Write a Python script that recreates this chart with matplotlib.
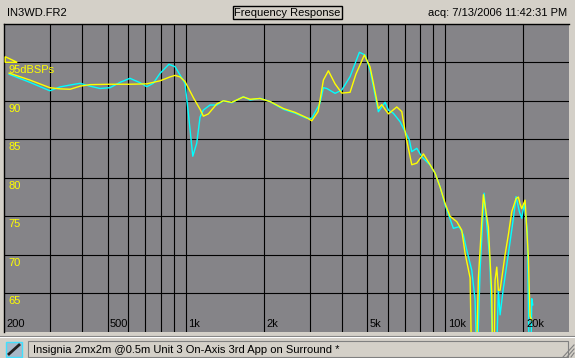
import matplotlib.pyplot as plt
import matplotlib.transforms as mtransforms
from matplotlib.patches import Rectangle, Polygon
from matplotlib.lines import Line2D

# Frequency response (Hz, dB SPL)
yellow_freq = [209, 251, 300, 328, 359, 392, 428, 511, 610, 708,
               797, 870, 910, 951, 994, 1075, 1136, 1170, 1223, 1318,
               1397, 1504, 1667, 1770, 1934, 2113, 2378, 2638, 2927, 3060,
               3236, 3392, 3545, 3762, 3992, 4296, 4530, 4878, 5130, 5283,
               5522, 5691, 6036, 6502, 6796, 7060, 7426, 7764, 8232, 8736,
               9132, 9545, 9977, 10431, 11070, 11570, 11914, 12456, 12644, 13150,
               13408, 14015, 14651, 15096, 15230, 15400, 15545, 15782, 16005, 16251,
               16986, 17490, 18026, 18729, 19114, 19406, 19698, 20285, 20877, 21070,
               21200, 21530]
yellow_db = [93.6, 92.7, 91.7, 91.55, 91.5, 91.9, 92.1, 92.15, 92.15, 92.2,
             92.6, 93.1, 93.3, 93.1, 92.5, 90.3, 88.9, 88.0, 88.3, 89.6,
             90.0, 89.8, 90.5, 90.2, 90.3, 89.9, 89.0, 88.5, 87.8, 87.4,
             88.6, 92.7, 93.9, 92.2, 91.0, 91.1, 93.5, 95.95, 94.4, 92.3,
             89.0, 89.5, 88.3, 89.2, 88.6, 85.3, 81.7, 81.9, 83.1, 81.7,
             80.6, 78.8, 76.7, 75.0, 74.3, 73.2, 70.2, 67.0, 55, 55,
             67, 77.8, 73.6, 65, 55, 55, 66.7, 68.4, 65.4, 65.4,
             70, 72.6, 75.6, 77.3, 77.5, 76.6, 76.0, 77.1, 69.8, 65.2,
             62, 61.5]

cyan_freq = [209, 251, 300, 328, 359, 392, 428, 468, 511, 559,
             610, 667, 708, 750, 797, 862, 910, 951, 994, 1024,
             1065, 1103, 1136, 1170, 1241, 1318, 1397, 1504, 1667, 1770,
             1934, 2113, 2378, 2638, 2927, 3060, 3292, 3392, 3495, 3762,
             3992, 4296, 4667, 4908, 5130, 5364, 5522, 5862, 6036, 6307,
             6695, 6998, 7272, 7426, 7764, 8116, 8736, 9132, 9545, 9977,
             10740, 11326, 11736, 12096, 12644, 13021, 13250, 13611, 14103, 14846,
             15300, 15700, 16005, 16251, 16732, 17250, 17760, 18286, 18729, 19286,
             19698, 20161, 20700, 21070, 21340, 21530, 21720]
cyan_db = [93.45, 92.4, 91.3, 91.8, 92.05, 92.27, 91.9, 91.6, 91.7, 92.4,
           92.92, 92.35, 91.83, 92.27, 93.57, 94.74, 94.43, 93.35, 92.27, 88.4,
           82.8, 84.5, 87.9, 88.8, 89.45, 89.45, 90.0, 89.75, 90.53, 90.1,
           90.32, 89.9, 88.9, 88.4, 87.73, 87.73, 89.7, 91.7, 91.6, 90.97,
           91.4, 93.13, 96.3, 95.95, 94.0, 90.75, 88.58, 89.81, 88.8, 88.38,
           87.29, 86.0, 84.9, 83.4, 83.83, 82.74, 81.66, 80.6, 78.84, 76.5,
           73.44, 73.65, 72.57, 70.6, 68.0, 64.1, 55, 68, 78.0, 69.3,
           55, 55, 65.4, 62.2, 65.65, 68.7, 71.7, 74.74, 77.55, 75.6,
           74.74, 76.7, 73.0, 55, 55, 64.3, 63.5]

grid_freqs = [300, 400, 500, 600, 700, 800, 900, 1000, 2000, 3000, 4000,
              5000, 6000, 7000, 8000, 9000, 10000, 20000]
freq_labels = {200: '200', 500: '500', 1000: '1k', 2000: '2k',
               5000: '5k', 10000: '10k', 20000: '20k'}
level_labels = {95: '95dBSPs', 90: '90', 85: '85', 80: '80',
                75: '75', 70: '70', 65: '65'}
ref_level = 95

W, H = 575, 358
win_bg = '#D4D0C8'
plt.rcParams['font.family'] = ['Liberation Sans', 'DejaVu Sans']

fig = plt.figure(figsize=(W / 100, H / 100), dpi=100, facecolor=win_bg)

def px(x, y):
    # pixel (from top-left) -> figure fraction
    return x / W, 1 - y / H

ax = fig.add_axes([4.2 / W, 1 - 331.8 / H, 565 / W, 308 / H])
ax.set_facecolor('#858488')
ax.set_xscale('log')
ax.set_xlim(200, 30000)
ax.set_ylim(60, 100)
ax.set_xticks([])
ax.set_yticks([])
ax.minorticks_off()
for s in ['right', 'bottom']:
    ax.spines[s].set_visible(False)
for s in ['left', 'top']:
    ax.spines[s].set_color('black')
    ax.spines[s].set_linewidth(1.0)

for f in grid_freqs:
    ax.axvline(f, color='black', lw=0.8, zorder=1)
for lv in level_labels:
    ax.axhline(lv, color='black', lw=0.8, zorder=1)

ax.plot(cyan_freq, cyan_db, color='#00FFFF', lw=1.0, zorder=3)
ax.plot(yellow_freq, yellow_db, color='#FFFF00', lw=1.0, zorder=4)

# axis labels drawn inside the plot like the original program
xlab_tr = mtransforms.offset_copy(ax.get_xaxis_transform(), fig=fig, x=2.5, y=3, units='dots')
for f, lab in freq_labels.items():
    ax.text(f, 0, lab, transform=xlab_tr, ha='left', va='bottom',
            fontsize=8, color='black', zorder=5)
ylab_tr = mtransforms.offset_copy(ax.get_yaxis_transform(), fig=fig, x=4, y=-3, units='dots')
for lv, lab in level_labels.items():
    ax.text(0, lv, lab, transform=ylab_tr, ha='left', va='top',
            fontsize=8, color='#FFFF00', zorder=5)

# reference level marker (small triangle on the 95 dB line)
tri = Polygon([(0, ref_level), (0, ref_level), (0, ref_level)], closed=True,
              fill=False, edgecolor='#FFFF00', lw=1.0, zorder=5,
              transform=ax.get_yaxis_transform())
ax.add_patch(tri)
fig.canvas.draw()
x0, y0 = ax.get_yaxis_transform().transform((0, ref_level))
inv = ax.get_yaxis_transform().inverted()
tri.set_xy([inv.transform((x0 + 1, y0)), inv.transform((x0 + 1, y0 + 5.6)),
            inv.transform((x0 + 13, y0))])

# header
fig.text(*px(6.5, 13.5), 'IN3WD.FR2', ha='left', va='center', fontsize=8)
fig.text(*px(287.5, 12.5), 'Frequency Response', ha='center', va='center', fontsize=8,
         bbox=dict(boxstyle='square,pad=0.12', fc='none', ec='black', lw=1.0))
fig.text(*px(567, 13.5), 'acq: 7/13/2006 11:42:31 PM', ha='right', va='center', fontsize=8)

# status bar
fig.add_artist(Line2D([0, 1], [1 - 335.5 / H] * 2, color='#808080', lw=0.8))
fig.add_artist(Line2D([0, 1], [1 - 336.5 / H] * 2, color='white', lw=0.8))
x0, y0 = px(28, 357)
fig.add_artist(Rectangle((x0, y0), 540 / W, 16 / H, fc=win_bg, ec='#808080', lw=0.8))
fig.text(*px(33, 350), 'Insignia 2mx2m @0.5m Unit 3 On-Axis 3rd App on Surround *',
         ha='left', va='center', fontsize=8)
x0, y0 = px(6, 357)
fig.add_artist(Rectangle((x0, y0), 16 / W, 15 / H, fc='#A8B8C8', ec='#40E0FF', lw=1.0))
fig.add_artist(Line2D([9 / W, 19 / W], [1 - 354 / H, 1 - 345 / H], color='#202020', lw=2.0))
for d in [4, 8, 12]:
    fig.add_artist(Line2D([(575 - d) / W, 574 / W], [1 - 357 / H, 1 - (357 - d) / H],
                          color='#808080', lw=0.8))

fig.savefig('out.png', dpi=100, facecolor=win_bg)
